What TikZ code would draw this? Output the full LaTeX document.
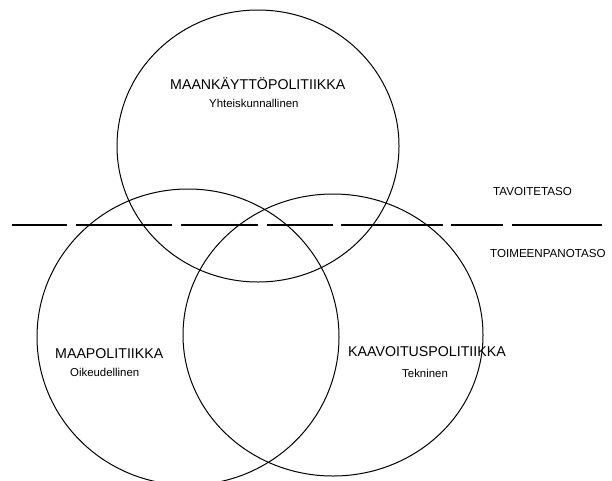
\documentclass[tikz,border=0pt]{standalone}
\usepackage{fontspec}
\setmainfont{Liberation Sans}
\usetikzlibrary{positioning}

\begin{document}
\begin{tikzpicture}[x=1pt,y=-1pt,
                      ring/.style={draw,line width=1pt},
                      policy/.style={font=\fontsize{14.2}{15}\selectfont,inner sep=0pt,anchor=base west},
                      aspect/.style={font=\fontsize{11.4}{12}\selectfont,inner sep=0pt,anchor=base west},
                      level/.style={font=\fontsize{11.6}{12}\selectfont,inner sep=0pt,anchor=base west},
                      border/.style={line width=1.4pt,dash pattern=on 55pt off 9pt on 96pt off 9pt on 77pt off 9pt on 66pt off 8pt on 102pt off 8pt on 52pt off 9pt on 90pt off 20pt},
                      ]
    \useasboundingbox (0,0) rectangle (612,480);
    \coordinate (landuse) at (258,146);
    \coordinate (land) at (188,337);
    \coordinate (zoning) at (333,335);
    \draw[ring] (landuse) ellipse [x radius=141, y radius=136];
    \draw[ring] (land) ellipse [x radius=151, y radius=148];
    \draw[ring] (zoning) ellipse [x radius=150, y radius=141];

    % tavoite / toimeenpano
    \coordinate (borderw) at (12,225);
    \coordinate (bordere) at (602,225);
    \draw[border] (borderw) -- (bordere);

    \node[policy] (landusetitle) at (170,89) {MAANKÄYTTÖPOLITIIKKA};
    \node[aspect] (landusesub) at (209,107) {Yhteiskunnallinen};
    \node[policy] (landtitle) at (55,358) {MAAPOLITIIKKA};
    \node[aspect] (landsub) at (70,376) {Oikeudellinen};
    \node[policy] (zoningtitle) at (348,356) {KAAVOITUSPOLITIIKKA};
    \node[aspect] (zoningsub) at (402,377) {Tekninen};

    \node[level] (goal) at (493,195) {TAVOITETASO};
    \node[level] (action) at (490,257) {TOIMEENPANOTASO};
\end{tikzpicture}
\end{document}
